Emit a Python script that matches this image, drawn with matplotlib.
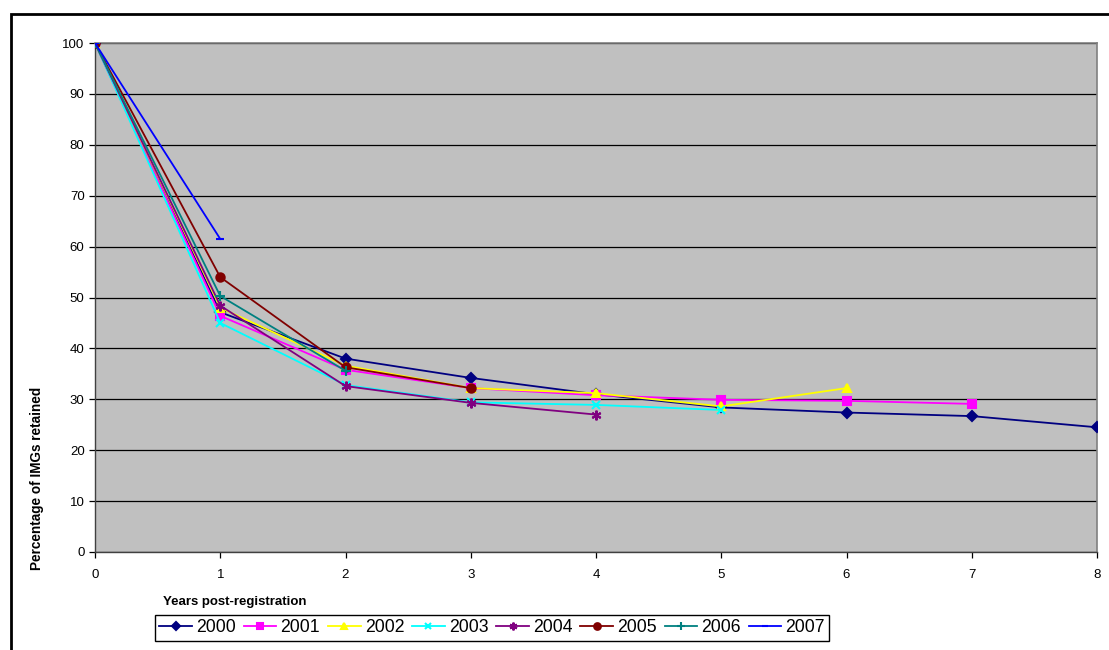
import matplotlib.pyplot as plt
from matplotlib.patches import Rectangle

plt.rcParams['font.family'] = ['Liberation Sans', 'DejaVu Sans']

# Retention by registration cohort (percent of IMGs still registered)
years = [0, 1, 2, 3, 4, 5, 6, 7, 8]
cohorts = ["2000", "2001", "2002", "2003", "2004", "2005", "2006", "2007"]
retained = {
    "2000": [100, 47.1, 38.0, 34.2, 31.0, 28.4, 27.4, 26.7, 24.5],
    "2001": [100, 46.4, 35.8, 32.2, 30.8, 29.9, 29.7, 29.1],
    "2002": [100, 48.0, 36.6, 32.2, 31.2, 28.6, 32.2],
    "2003": [100, 45.0, 32.8, 29.4, 28.9, 27.9],
    "2004": [100, 48.4, 32.6, 29.3, 27.0],
    "2005": [100, 54.0, 36.3, 32.2],
    "2006": [100, 50.3, 35.6],
    "2007": [100, 61.5],
}

colors = ["#000080", "#FF00FF", "#FFFF00", "#00FFFF", "#800080", "#800000", "#008080", "#0000FF"]
markers = ["D", "s", "^", "x", (6, 2, 0), "o", "+", "_"]
msizes = [5, 6, 6, 6, 7, 6, 7, 6]

fig = plt.figure(figsize=(11.09, 6.5), dpi=100)
ax = fig.add_axes([95 / 1109, 1 - 552 / 650, 1002 / 1109, 509 / 650])
ax.set_facecolor("#C0C0C0")

for name, c, m, ms in zip(cohorts, colors, markers, msizes):
    vals = retained[name]
    ax.plot(years[:len(vals)], vals, color=c, marker=m, markersize=ms,
            markeredgewidth=1.5, linewidth=1.3, label=name, zorder=3)

ax.set_xlim(0, 8)
ax.set_ylim(0, 100)
ax.set_xticks(range(0, 9))
ax.set_yticks(range(0, 101, 10))
ax.yaxis.grid(True, color="black", linewidth=0.9)
ax.set_axisbelow(True)
ax.tick_params(axis="both", labelsize=9.5, direction="out", length=4, width=0.9)
ax.tick_params(axis="x", pad=8)

for side in ["top", "right"]:
    ax.spines[side].set_color("#808080")
    ax.spines[side].set_linewidth(1.2)
for side in ["left", "bottom"]:
    ax.spines[side].set_color("#404040")
    ax.spines[side].set_linewidth(1.0)

fig.text(163 / 1109, 1 - 602 / 650, "Years post-registration", fontsize=9.5,
         fontweight="bold", va="center", ha="left")
fig.text(37 / 1109, 1 - 478 / 650, "Percentage of IMGs retained", fontsize=9.8,
         fontweight="bold", rotation=90, va="center", ha="center")

leg = fig.legend(loc="center left", bbox_to_anchor=(155 / 1109, 1 - 628 / 650),
                 ncol=8, fontsize=12.7, frameon=True, fancybox=False,
                 edgecolor="black", framealpha=1, handlelength=1.85,
                 handletextpad=0.23, columnspacing=0.45, borderpad=0.25,
                 borderaxespad=0, markerscale=0.8)
leg.get_frame().set_linewidth(1.0)

# outer chart frame
fig.patches.append(Rectangle((11 / 1109, -0.05), 1.05, 1 - 14 / 650 + 0.05,
                             transform=fig.transFigure, fill=False,
                             edgecolor="black", linewidth=2, clip_on=False))

fig.savefig("out.png", dpi=100)
